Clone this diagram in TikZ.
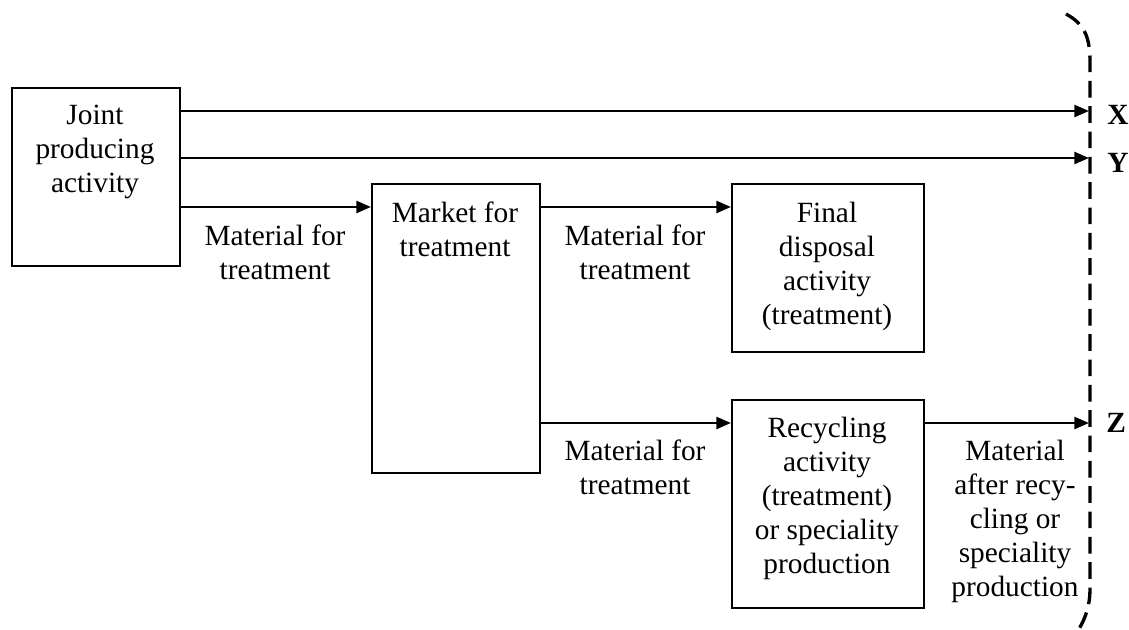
\documentclass[tikz,border=0pt]{standalone}
\usepackage{fontspec}
\setmainfont{Liberation Serif}
\usetikzlibrary{arrows.meta}
\begin{document}
\begin{tikzpicture}[x=0.75pt,y=-0.75pt,
  box/.style={draw, line width=1.5pt, inner sep=0pt},
  txt/.style={align=center, inner sep=0pt, anchor=north, font=\fontsize{22}{25.5}\selectfont},
  lbl/.style={inner sep=0pt, anchor=base west, font=\fontsize{22}{25.5}\selectfont\bfseries},
  arr/.style={line width=1.8pt, -{Triangle[length=11pt,width=9pt]}},
  bracket/.style={line width=2.5pt, dash pattern=on 12.5pt off 6.5pt}
]
\useasboundingbox (0,0) rectangle (1129,630);
% boxes
\node[box, anchor=north west, minimum width=126pt, minimum height=133.5pt] (joint) at (11,87) {};
\node[box, anchor=north west, minimum width=126pt, minimum height=216.75pt] (market) at (371,183) {};
\node[box, anchor=north west, minimum width=144pt, minimum height=126pt] (final) at (731,183) {};
\node[box, anchor=north west, minimum width=144pt, minimum height=156pt] (recyc) at (731,399) {};
% box texts
\node[txt] (tjoint) at (95,105) {Joint\\producing\\activity};
\node[txt] (tmarket) at (455,202) {Market for\\treatment};
\node[txt] (tfinal) at (827,202) {Final\\disposal\\activity\\(treatment)};
\node[txt] (trecyc) at (827,417) {Recycling\\activity\\(treatment)\\or speciality\\production};
% connector labels
\node[txt] (l1) at (275,225) {Material for\\treatment};
\node[txt] (l2) at (635,225) {Material for\\treatment};
\node[txt] (l3) at (635,440) {Material for\\treatment};
\node[txt] (l4) at (1015,440) {Material\\after recy-\\cling or\\speciality\\production};
% X Y Z
\node[lbl] (X) at (1107,125) {X};
\node[lbl] (Y) at (1107,173) {Y};
\node[lbl] (Z) at (1106,433) {Z};
% coordinates
\coordinate (xend) at (1089,111);
\coordinate (yend) at (1089,158);
\coordinate (zend) at (1089,423);
\coordinate (m1) at (0,207);
% arrows
\draw[arr] (joint.east |- xend) -- (xend);
\draw[arr] (joint.east |- yend) -- (yend);
\draw[arr] (joint.east |- m1) -- (market.west |- m1);
\draw[arr] (market.east |- m1) -- (final.west |- m1);
\draw[arr] (market.east |- zend) -- (recyc.west |- zend);
\draw[arr] (recyc.east |- zend) -- (zend);
% dashed bracket
\draw[bracket] (1066,14) .. controls (1084,24) and (1090,36) .. (1090,62) -- (1090,588) .. controls (1090,606) and (1086,618) .. (1076,634);
\end{tikzpicture}
\end{document}
